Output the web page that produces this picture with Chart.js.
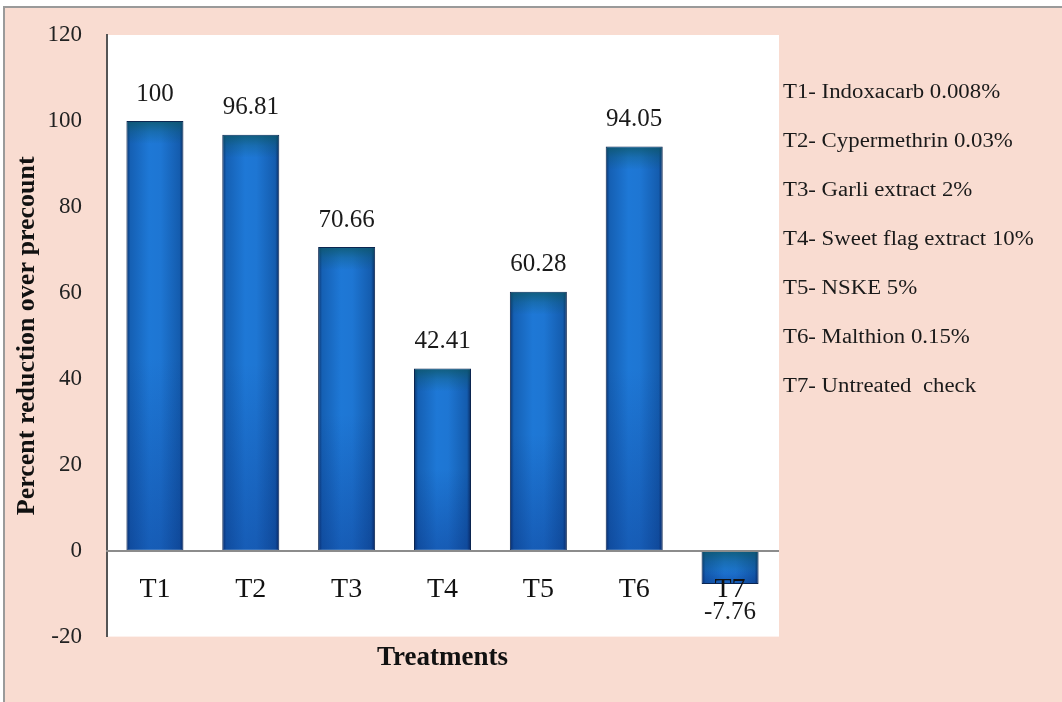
<!DOCTYPE html>
<html>
<head>
<meta charset="utf-8">
<script src="https://cdn.jsdelivr.net/npm/chart.js@4.4.1/dist/chart.umd.min.js"></script>
<style>
  html, body { margin: 0; padding: 0; background: #ffffff; }
  #wrap { width: 1062px; height: 702px; }
</style>
</head>
<body>
<div id="wrap"><canvas id="chart" width="1062" height="702"></canvas></div>
<script>
// Treatments on the category axis
const treatments = ['T1', 'T2', 'T3', 'T4', 'T5', 'T6', 'T7'];
// Percent reduction over precount for each treatment
const reduction = [100, 96.81, 70.66, 42.41, 60.28, 94.05, -7.76];
// Key to the treatment codes, listed beside the plot
const treatmentNames = [
  'T1- Indoxacarb 0.008%',
  'T2- Cypermethrin 0.03%',
  'T3- Garli extract 2%',
  'T4- Sweet flag extract 10%',
  'T5- NSKE 5%',
  'T6- Malthion 0.15%',
  'T7- Untreated  check'
];
// Value axis ticks
const yTicks = [-20, 0, 20, 40, 60, 80, 100, 120];

const SERIF = '"Liberation Serif", "Times New Roman", serif';
const BAR_FRACTION = 0.595;

// Horizontal shading across each bar: dark rims, bright blue core
function barFill(c) {
  const chart = c.chart;
  const xs = chart.scales.x;
  if (!xs || c.type !== 'data' || !xs.width) return '#1e76d2';
  const cx = xs.getPixelForValue(c.dataIndex);
  const half = xs.width / treatments.length * BAR_FRACTION / 2;
  const g = chart.ctx.createLinearGradient(cx - half, 0, cx + half, 0);
  g.addColorStop(0.00, '#0a336e');
  g.addColorStop(0.07, '#1560b4');
  g.addColorStop(0.40, '#1e78d6');
  g.addColorStop(0.60, '#1e76d3');
  g.addColorStop(0.93, '#145cae');
  g.addColorStop(1.00, '#092a60');
  return g;
}

// Page background, frame and white plot panel
const backdrop = {
  id: 'backdrop',
  beforeDraw(chart) {
    const { ctx, width, height, chartArea: a } = chart;
    ctx.save();
    ctx.fillStyle = '#ffffff';
    ctx.fillRect(0, 0, width, height);
    ctx.fillStyle = '#f9dcd1';
    ctx.fillRect(5, 8, width - 5, height - 8);
    ctx.strokeStyle = '#9a9a9a';
    ctx.lineWidth = 2;
    ctx.beginPath();
    ctx.moveTo(4, height);
    ctx.lineTo(4, 7);
    ctx.lineTo(width, 7);
    ctx.stroke();
    ctx.fillStyle = '#ffffff';
    ctx.fillRect(a.left, a.top, a.right - a.left + 1, a.bottom - a.top);
    ctx.restore();
  }
};

// Cap and foot shading over each bar, then the value written beyond its end
const barDecor = {
  id: 'barDecor',
  afterDatasetsDraw(chart) {
    const { ctx } = chart;
    const meta = chart.getDatasetMeta(0);
    ctx.save();
    meta.data.forEach((el, i) => {
      const { x, y, base, width } = el.getProps(['x', 'y', 'base', 'width'], true);
      const left = x - width / 2 + 1;
      const w = width - 2;
      const top = Math.min(y, base) + 1;
      const bottom = Math.max(y, base) - 1;
      const h = bottom - top;
      if (h <= 0) return;
      // deeper blue toward the foot
      const v = ctx.createLinearGradient(0, top, 0, bottom);
      v.addColorStop(0, 'rgba(5,30,110,0.0)');
      v.addColorStop(0.55, 'rgba(5,30,110,0.0)');
      v.addColorStop(1, 'rgba(5,30,110,0.30)');
      ctx.fillStyle = v;
      ctx.fillRect(left, top, w, h);
      // dark teal cap along the top edge
      const bh = Math.min(22, h);
      const b = ctx.createLinearGradient(0, top, 0, top + bh);
      b.addColorStop(0, 'rgba(12,85,95,0.70)');
      b.addColorStop(0.45, 'rgba(12,85,95,0.30)');
      b.addColorStop(1, 'rgba(12,85,95,0.0)');
      ctx.fillStyle = b;
      ctx.fillRect(left, top, w, bh);

      // value label
      const val = reduction[i];
      ctx.fillStyle = '#1a1a1a';
      ctx.font = '25px ' + SERIF;
      ctx.textAlign = 'center';
      ctx.textBaseline = 'middle';
      ctx.fillText(String(val), x, val >= 0 ? y - 27 : y + 28);
    });
    ctx.restore();
  }
};

// Treatment key to the right of the plot (set slightly wide)
const treatmentKey = {
  id: 'treatmentKey',
  afterDraw(chart) {
    const { ctx, chartArea: a } = chart;
    ctx.save();
    ctx.fillStyle = '#1a1a1a';
    ctx.font = '20px ' + SERIF;
    ctx.textAlign = 'left';
    ctx.textBaseline = 'middle';
    treatmentNames.forEach((t, i) => {
      ctx.save();
      ctx.translate(a.right + 5, a.top + 58 + i * 49);
      ctx.scale(1.14, 1);
      ctx.fillText(t, 0, 0);
      ctx.restore();
    });
    ctx.restore();
  }
};

new Chart(document.getElementById('chart'), {
  type: 'bar',
  data: {
    labels: treatments,
    datasets: [{
      data: reduction,
      backgroundColor: barFill,
      borderColor: '#0b2550',
      borderWidth: 1,
      borderSkipped: false,
      categoryPercentage: 1,
      barPercentage: BAR_FRACTION
    }]
  },
  options: {
    responsive: false,
    animation: false,
    devicePixelRatio: 1,
    layout: { padding: { left: 0, top: 35, right: 284, bottom: 0 } },
    plugins: {
      legend: { display: false },
      tooltip: { enabled: false },
      title: {
        display: true,
        text: 'Treatments',
        position: 'bottom',
        fullSize: false,
        color: '#111111',
        font: { family: SERIF, size: 27, weight: 'bold' },
        padding: { top: 5, bottom: 28 }
      }
    },
    scales: {
      x: {
        position: { y: 0 },
        offset: true,
        grid: { display: false, drawTicks: false },
        border: { display: true, color: '#8c8c8c', width: 2, z: 1 },
        ticks: {
          z: 1,
          color: '#111111',
          font: { family: SERIF, size: 28 },
          padding: 22,
          maxRotation: 0
        },
        afterFit(scale) { scale.height = 0; }
      },
      y: {
        min: yTicks[0],
        max: yTicks[yTicks.length - 1],
        grid: { display: false, drawTicks: false },
        border: { display: true, color: '#555555', width: 2 },
        ticks: {
          stepSize: yTicks[1] - yTicks[0],
          color: '#222222',
          font: { family: SERIF, size: 23, lineHeight: 0.85 },
          padding: 25
        },
        title: {
          display: true,
          text: 'Percent reduction over precount',
          color: '#111111',
          font: { family: SERIF, size: 26, weight: 'bold' },
          padding: { top: 12, bottom: 0 }
        },
        afterFit(scale) { scale.width = 107; }
      }
    }
  },
  plugins: [backdrop, barDecor, treatmentKey]
});
</script>
</body>
</html>
